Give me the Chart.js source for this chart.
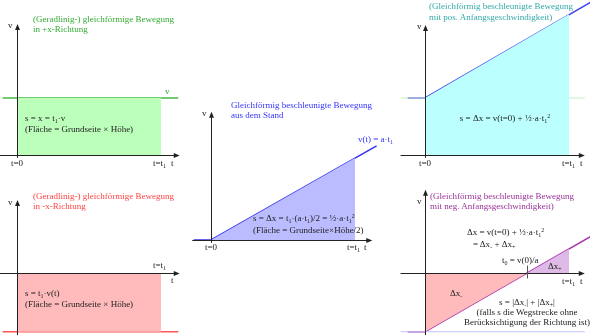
<!DOCTYPE html>
<html>
<head>
<meta charset="utf-8">
<script src="https://cdn.jsdelivr.net/npm/chart.js@4.4.0/dist/chart.umd.min.js"></script>
<style>
    body { margin: 0; background: #fff; }
    #bild { position: relative; width: 590px; height: 336px; overflow: hidden;
            font-family: "Liberation Serif", "DejaVu Serif", serif; }
    .panel { position: absolute; }
    .txt { position: absolute; font-size: 9px; line-height: 10px; white-space: nowrap; color: #222; }
    .mitte { transform: translateX(-50%); text-align: center; }
    sub { font-size: 6px; vertical-align: -2px; line-height: 0; }
    sup { font-size: 6px; vertical-align: 3px; line-height: 0; }
</style>
</head>
<body>
<div id="bild">
    <div class="panel" style="left:0;top:0"><canvas id="p1" width="190" height="168"></canvas></div>
    <div class="panel" style="left:0;top:168px"><canvas id="p2" width="190" height="168"></canvas></div>
    <div class="panel" style="left:190px;top:95px"><canvas id="p3" width="200" height="160"></canvas></div>
    <div class="panel" style="left:390px;top:0"><canvas id="p4" width="200" height="168"></canvas></div>
    <div class="panel" style="left:390px;top:168px"><canvas id="p5" width="200" height="168"></canvas></div>
</div>
<script>
// Zeitpunkte (in Einheiten von t1)
const tGerade = [-0.1, 1.12];          // konstante Geschwindigkeit, Linie
const tFlaeche = [0, 1];               // t=0 ... t=t1
const tRampe = [-0.12, 0, 1.15];       // Linie mit Knick bei t=0
const tNull = 0.71;                    // Nulldurchgang v(t0)=0 im letzten Diagramm

// Geschwindigkeiten
const vPlus = [1, 1];
const vMinus = [-1.03, -1.03];
const vStandLinie = [0, 0, 1.65];
const vStandFlaeche = [0, 1.44];
const vPosLinie = [1, 1, 2.68];
const vPosFlaeche = [1, 2.47];
const vNegLinie = [-1.03, -1.03, 0.64];
const vNegFlaecheMinus = [-1.03, 0];
const vNegFlaechePlus = [0, 0.42];

// Pixel je Einheit
const PX_T = 144;
const PX_V = 57;

const punkte = (ts, vs) => ts.map((t, i) => ({ x: t, y: vs[i] }));

// Achsen mit Pfeilspitzen
const achsenPlugin = {
    id: 'achsen',
    afterDatasetsDraw(chart, args, opts) {
        const { ctx, scales: { x, y } } = chart;
        const x0 = Math.round(x.getPixelForValue(0)) + 0.5;
        const y0 = Math.round(y.getPixelForValue(0)) + 0.5;
        ctx.save();
        ctx.strokeStyle = '#222';
        ctx.fillStyle = '#222';
        ctx.lineWidth = 1;

        const xa = x.getPixelForValue(opts.tVon), xe = x.getPixelForValue(opts.tBis);
        ctx.beginPath(); ctx.moveTo(xa, y0); ctx.lineTo(xe - 3, y0); ctx.stroke();
        ctx.beginPath(); ctx.moveTo(xe, y0); ctx.lineTo(xe - 6, y0 - 2.5); ctx.lineTo(xe - 6, y0 + 2.5); ctx.closePath(); ctx.fill();

        const ya = y.getPixelForValue(opts.vVon), ye = y.getPixelForValue(opts.vBis);
        ctx.beginPath(); ctx.moveTo(x0, ya); ctx.lineTo(x0, ye + 3); ctx.stroke();
        ctx.beginPath(); ctx.moveTo(x0, ye); ctx.lineTo(x0 - 2.5, ye + 6); ctx.lineTo(x0 + 2.5, ye + 6); ctx.closePath(); ctx.fill();

        if (opts.strich !== undefined) {
            const xs = Math.round(x.getPixelForValue(opts.strich)) + 0.5;
            ctx.strokeStyle = '#555';
            ctx.beginPath(); ctx.moveTo(xs, y0 - 8); ctx.lineTo(xs, y0 + 5); ctx.stroke();
        }
        ctx.restore();
    }
};

function flaeche(daten, farbe) {
    return { data: daten, showLine: true, borderWidth: 0, borderColor: farbe, backgroundColor: farbe, fill: 'origin' };
}

function linie(daten, farbe, breite) {
    return { data: daten, showLine: true, borderWidth: breite || 1.5, borderColor: farbe, fill: false };
}

// box: Lage der Zeichenfläche auf der Seite, ursprung: Pixel von t=0, v=0
function zeichnePanel(id, box, ursprung, datasets, achsen) {
    const ctx = document.getElementById(id).getContext('2d');
    return new Chart(ctx, {
        type: 'scatter',
        data: { datasets: datasets },
        options: {
            responsive: false,
            animation: false,
            layout: { padding: 0 },
            elements: { point: { radius: 0, hoverRadius: 0 }, line: { tension: 0 } },
            plugins: { legend: { display: false }, tooltip: { enabled: false }, achsen: achsen },
            scales: {
                x: { type: 'linear', display: false,
                     min: -(ursprung[0] - box[0]) / PX_T, max: (box[0] + box[2] - ursprung[0]) / PX_T },
                y: { type: 'linear', display: false,
                     min: -(box[1] + box[3] - ursprung[1]) / PX_V, max: (ursprung[1] - box[1]) / PX_V }
            }
        },
        plugins: [achsenPlugin]
    });
}

zeichnePanel('p1', [0, 0, 190, 168], [17, 155], [
    flaeche(punkte(tFlaeche, vPlus), '#bbffbb'),
    linie(punkte(tGerade, vPlus), '#44bb44')
], { tVon: -0.118, tBis: 1.13, vVon: -0.05, vBis: 2.3 });

zeichnePanel('p2', [0, 168, 190, 168], [17, 273], [
    flaeche(punkte(tFlaeche, vMinus), '#ffbbbb'),
    linie(punkte(tGerade, vMinus), '#ff5555')
], { tVon: -0.118, tBis: 1.13, vVon: -1.09, vBis: 1.28 });

zeichnePanel('p3', [190, 95, 200, 160], [211, 240], [
    flaeche(punkte(tFlaeche, vStandFlaeche), '#bbbbff'),
    linie(punkte(tRampe, vStandLinie), '#3333ee')
], { tVon: -0.13, tBis: 1.12, vVon: -0.05, vBis: 2.25 });

zeichnePanel('p4', [390, 0, 200, 168], [425, 155], [
    flaeche(punkte(tFlaeche, vPosFlaeche), '#bbffff'),
    linie(punkte([-0.17, 1.11], vPlus), '#c8eec8', 1),
    linie(punkte(tRampe, vPosLinie), '#4444ee')
], { tVon: -0.17, tBis: 1.11, vVon: -0.05, vBis: 2.28 });

zeichnePanel('p5', [390, 168, 200, 168], [425, 273], [
    flaeche(punkte([0, tNull], vNegFlaecheMinus), '#ffbbbb'),
    flaeche(punkte([tNull, 1], vNegFlaechePlus), '#ddbbe6'),
    linie(punkte([-0.17, 1.11], vMinus), '#c4c4ff', 1),
    linie(punkte(tRampe, vNegLinie), '#aa33aa')
], { tVon: -0.17, tBis: 1.11, vVon: -1.09, vBis: 1.46, strich: tNull });

// Beschriftungen
const texte = [
    // oben links
    [33, 19, '(Geradlinig-) gleichförmige Bewegung', '#33aa33'],
    [33, 29, 'in +x-Richtung', '#33aa33'],
    [8, 25, 'v'],
    [165, 91, 'v', '#33aa33'],
    [25, 118, 's = x = t<sub>1</sub>·v'],
    [25, 129, '(Fläche = Grundseite × Höhe)'],
    [17, 163, 't=0', null, true],
    [153, 163, 't=t<sub>1</sub>'],
    [171, 163, 't'],
    // unten links
    [33, 196, '(Geradlinig-) gleichförmige Bewegung', '#ff4444'],
    [33, 206, 'in -x-Richtung', '#ff4444'],
    [8, 202, 'v'],
    [153, 265, 't=t<sub>1</sub>'],
    [171, 280, 't'],
    [25, 293, 's = t<sub>1</sub>·v(t)'],
    [25, 304, '(Fläche = Grundseite × Höhe)'],
    // Mitte
    [231, 105, 'Gleichförmig beschleunigte Bewegung', '#3333ff'],
    [231, 115, 'aus dem Stand', '#3333ff'],
    [202, 113, 'v'],
    [358, 139, 'v(t) = a·t<sub>1</sub>', '#3333ff'],
    [253, 218, 's = Δx = t<sub>1</sub>·(a·t<sub>1</sub>)/2 = ½·a·t<sub>1</sub><sup>2</sup>'],
    [253, 230, '(Fläche = Grundseite×Höhe/2)'],
    [211, 247, 't=0', null, true],
    [347, 247, 't=t<sub>1</sub>'],
    [364, 247, 't'],
    // oben rechts
    [429, 6, '(Gleichförmig beschleunigte Bewegung', '#33aaaa'],
    [429, 17, 'mit pos. Anfangsgeschwindigkeit)', '#33aaaa'],
    [417, 26, 'v'],
    [505, 118, 's = Δx = v(t=0) + ½·a·t<sub>1</sub><sup>2</sup>', null, true],
    [425, 163, 't=0', null, true],
    [562, 163, 't=t<sub>1</sub>'],
    [580, 163, 't'],
    // unten rechts
    [430, 196, '(Gleichförmig beschleunigte Bewegung', '#993399'],
    [430, 206, 'mit neg. Anfangsgeschwindigkeit)', '#993399'],
    [417, 201, 'v'],
    [467, 232, 'Δx = v(t=0) + ½·a·t<sub>1</sub><sup>2</sup>'],
    [473, 244, '= Δx<sub>-</sub> + Δx<sub>+</sub>'],
    [502, 260, 't<sub>0</sub> = v(0)/a'],
    [548, 266, 'Δx<sub>+</sub>'],
    [450, 293, 'Δx<sub>-</sub>'],
    [562, 281, 't=t<sub>1</sub>'],
    [580, 281, 't'],
    [527, 302, 's = |Δx<sub>-</sub>| + |Δx<sub>+</sub>|', null, true],
    [527, 312, '(falls s die Wegstrecke ohne', null, true],
    [527, 322, 'Berücksichtigung der Richtung ist)', null, true]
];

const bild = document.getElementById('bild');
texte.forEach(([x, y, html, farbe, mittig]) => {
    const el = document.createElement('div');
    el.className = 'txt' + (mittig ? ' mitte' : '');
    el.style.left = x + 'px';
    el.style.top = (y - 5) + 'px';
    if (farbe) el.style.color = farbe;
    el.innerHTML = html;
    bild.appendChild(el);
});
</script>
</body>
</html>
